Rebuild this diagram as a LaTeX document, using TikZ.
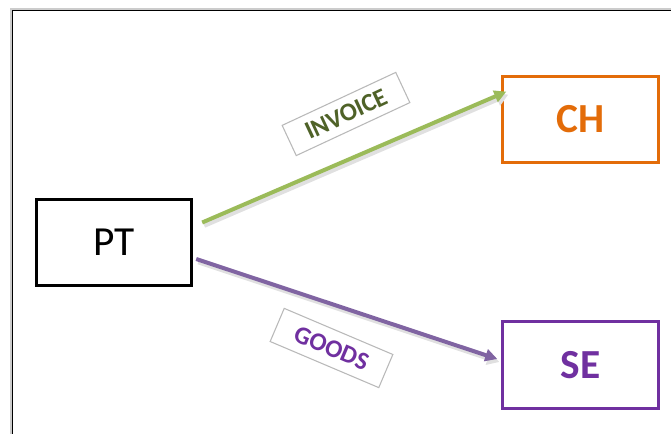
\documentclass[tikz,border=0pt]{standalone}
\usepackage{fontspec}
\setmainfont{Carlito}
\usetikzlibrary{arrows.meta,calc}
\definecolor{chorange}{HTML}{E36C09}
\definecolor{sepurple}{HTML}{7030A0}
\definecolor{invgreen}{HTML}{9BBB59}
\definecolor{invtext}{HTML}{4F6228}
\definecolor{goodsline}{HTML}{8064A2}

\begin{document}
\begin{tikzpicture}[x=0.75pt,y=-0.75pt,
  country/.style={draw, line width=2.3pt, minimum width=116.5pt, minimum height=65pt,
    inner sep=0pt, font=\fontsize{31}{36}\selectfont},
  boldcountry/.style={country, font=\fontsize{31}{36}\selectfont\bfseries},
  flow/.style={line width=3pt, -{Triangle[length=9pt,width=9pt]}},
  flowshadow/.style={line width=3.5pt, black!12, -{Triangle[length=9pt,width=10pt]}},
  tag/.style={draw=gray!55, line width=0.8pt, fill=white, inner sep=0pt,
    font=\fontsize{19}{22}\selectfont\bfseries}]
  \useasboundingbox (0,0) rectangle (671,434);
  % frame (cut off at right and bottom)
  \draw[gray!40, line width=0.8pt] (671,9) -- (11,9) -- (11,434);
  \draw[black, line width=0.9pt] (671,10.5) -- (12.5,10.5) -- (12.5,434);

  % countries
  \node[country] (PT) at (114,242.5) {PT};
  \node[boldcountry, draw=chorange, text=chorange] (CH) at (580.5,119.5) {CH};
  \node[boldcountry, draw=sepurple, text=sepurple] (SE) at (580.5,365) {SE};

  % arrow ends
  \coordinate (invS) at ($(PT.east)+(9,-20)$);
  \coordinate (invE) at ($(CH.north west)+(5,17)$);
  \coordinate (gdsS) at ($(PT.east)+(3,16.5)$);
  \coordinate (gdsE) at ($(SE.west)+(-4,-6)$);

  % shadows
  \draw[flowshadow] ($(invS)+(2,3)$) -- ($(invE)+(2,3)$);
  \draw[flowshadow] ($(gdsS)+(2,3)$) -- ($(gdsE)+(2,3)$);
  % flows
  \draw[flow, invgreen] (invS) -- (invE);
  \draw[flow, goodsline] (gdsS) -- (gdsE);

  % labels
  \node[tag, rotate=25, text=invtext, minimum width=94pt, minimum height=25pt] (inv) at (346,114) {INVOICE};
  \node[tag, rotate=-23, text=sepurple, minimum width=88.5pt, minimum height=27pt] (gds) at (331.5,348) {GOODS};
\end{tikzpicture}
\end{document}
